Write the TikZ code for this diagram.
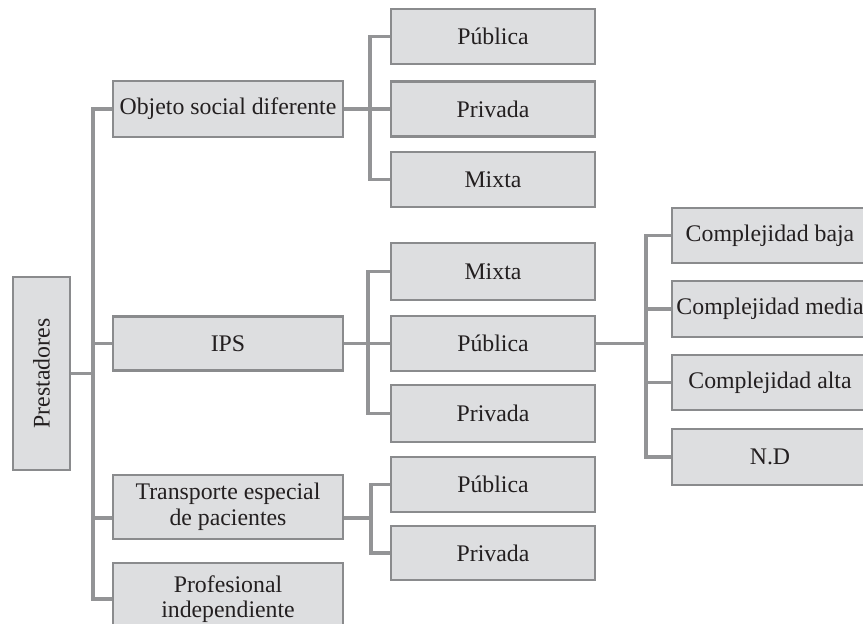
\documentclass[tikz,border=0pt]{standalone}
\usepackage{fontspec}
\setmainfont{Liberation Serif}
\definecolor{boxfill}{HTML}{DDDEE0}
\definecolor{boxline}{HTML}{8A8B8D}
\definecolor{linkgray}{HTML}{939496}
\definecolor{ink}{HTML}{231F20}
\begin{document}
\begin{tikzpicture}[x=1pt,y=-1pt,
  box/.style={draw=boxline, fill=boxfill, line width=2.4pt, inner sep=0pt,
    align=center, text=ink, font=\fontsize{23.8}{25.5}\selectfont},
  leftbox/.style={box, minimum width=230pt, minimum height=56pt},
  midbox/.style={box, minimum width=204pt, minimum height=55pt},
  rightbox/.style={box, minimum width=196pt, minimum height=55pt},
  conn/.style={draw=linkgray, line width=3.4pt}]
\useasboundingbox (0,0) rectangle (863,624);
\clip (0,0) rectangle (863,624);

% root
\node[box, minimum width=57pt, minimum height=193pt] (pres) at (41.5,373.5)
  {\rotatebox{90}{Prestadores}};

% first level
\node[leftbox] (obj) at (228,109) {Objeto social diferente};
\node[leftbox, minimum height=54pt] (ips) at (228,343.5) {IPS};
\node[leftbox, minimum height=64pt] (trans) at (228,507) {Transporte especial\\de pacientes};
\node[leftbox, minimum height=72pt] (prof) at (228,599) {Profesional\\independiente};

% second level
\node[midbox] (pub1) at (493,36.5) {Pública};
\node[midbox] (priv1) at (493,109) {Privada};
\node[midbox] (mix1) at (493,179.5) {Mixta};
\node[midbox, minimum height=57pt] (mix2) at (493,271.5) {Mixta};
\node[midbox] (pub2) at (493,343.5) {Pública};
\node[midbox, minimum height=57pt] (priv2) at (493,413.5) {Privada};
\node[midbox] (pub3) at (493,484.5) {Pública};
\node[midbox, minimum height=54pt] (priv3) at (493,553) {Privada};

% third level
\node[rightbox] (baja) at (770,235.5) {Complejidad baja};
\node[rightbox, minimum height=56pt] (media) at (770,309) {Complejidad media};
\node[rightbox] (alta) at (770,382.5) {Complejidad alta};
\node[rightbox, minimum height=56pt] (nd) at (770,457) {N.D};

% trunk positions
\coordinate (tm) at (93,599);
\coordinate (ja) at (370,0);
\coordinate (jb) at (368,0);
\coordinate (jc) at (371,0);
\coordinate (jd) at (646,0);
\coordinate (tl) at ([yshift=-11pt]trans.west);
\coordinate (tr) at ([yshift=-11pt]trans.east);

% main trunk
\draw[conn] (obj.west) -| (tm) -- (prof.west);
\draw[conn] (pres.east) -- (pres.east -| tm);
\draw[conn] (ips.west) -- (ips.west -| tm);
\draw[conn] (tl) -- (tl -| tm);

% objeto social group
\draw[conn] (pub1.west) -| (ja |- mix1.west) -- (mix1.west);
\draw[conn] (obj.east) -- (priv1.west);

% IPS group
\draw[conn] (mix2.west) -| (jb |- priv2.west) -- (priv2.west);
\draw[conn] (ips.east) -- (pub2.west);

% transporte group
\draw[conn] (pub3.west) -| (jc |- priv3.west) -- (priv3.west);
\draw[conn] (tr) -- (tr -| jc);

% complejidad group
\draw[conn] (baja.west) -| (jd |- nd.west) -- (nd.west);
\draw[conn] (media.west) -- (media.west -| jd);
\draw[conn] (alta.west) -- (alta.west -| jd);
\draw[conn] (pub2.east) -- (pub2.east -| jd);
\end{tikzpicture}
\end{document}
